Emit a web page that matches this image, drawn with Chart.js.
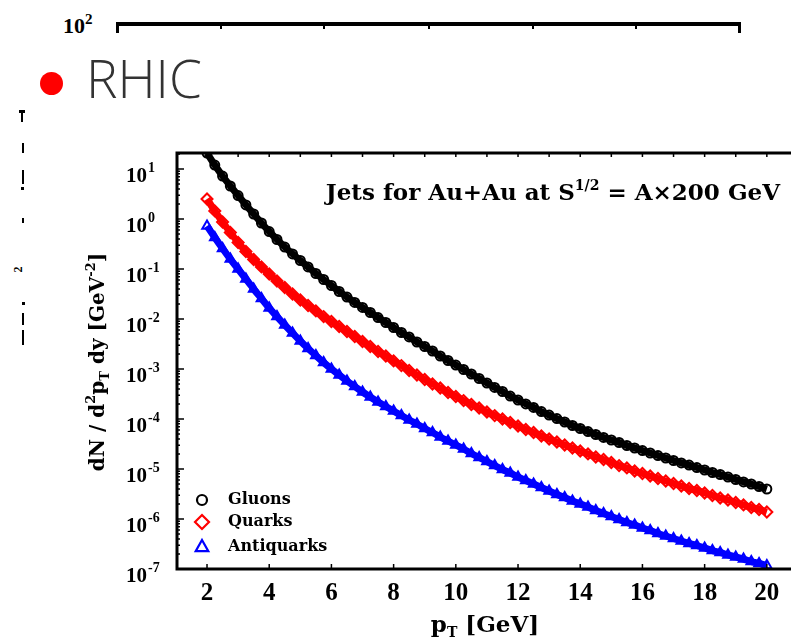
<!DOCTYPE html>
<html lang="en">
<head>
<meta charset="UTF-8">
<title>Jets for Au+Au at RHIC</title>
<style>
  html, body { margin: 0; padding: 0; background: #fff; }
  body { width: 791px; height: 641px; position: relative; overflow: hidden; }
  #wrap { position: absolute; left: 0; top: 130px; width: 820px; height: 511px; }
  .blk { position: absolute; background: #000; }
  #top10 { position: absolute; left: 63px; top: 15px; font: bold 22px "Liberation Serif", serif; line-height: 22px; color: #000; }
  #top10 span { position: relative; top: -9px; font-size: 15px; }
  #dot { position: absolute; left: 40px; top: 72px; width: 23px; height: 23px; border-radius: 50%; background: #f00; }
  #rhic { position: absolute; left: 86px; top: 52px; font-family: "Open Sans", sans-serif; font-weight: 300; font-size: 53px; line-height: 52px; color: #333; }
  #frag2 { position: absolute; left: 15px; top: 262px; font: bold 12px "Liberation Serif", serif; transform: rotate(-90deg); }
</style>
<script src="https://cdn.jsdelivr.net/npm/chart.js"></script>
</head>
<body>
  <!-- leftover axis strip at the top -->
  <div id="top10">10<span>2</span></div>
  <div class="blk" style="left:116px;top:22px;width:625px;height:4px"></div>
  <div class="blk" style="left:116px;top:22px;width:3px;height:11px"></div>
  <div class="blk" style="left:738px;top:22px;width:3px;height:11px"></div>
  <div class="blk" style="left:220px;top:26px;width:2px;height:3px"></div>
  <div class="blk" style="left:323px;top:26px;width:2px;height:3px"></div>
  <div class="blk" style="left:428px;top:26px;width:2px;height:3px"></div>
  <div class="blk" style="left:532px;top:26px;width:2px;height:3px"></div>
  <div class="blk" style="left:635px;top:26px;width:2px;height:3px"></div>

  <div id="dot"></div>
  <div id="rhic">RHIC</div>

  <!-- cut-off label pieces on the far left -->
  <div class="blk" style="left:19px;top:110px;width:6px;height:3px"></div>
  <div class="blk" style="left:21px;top:112px;width:2px;height:10px"></div>
  <div class="blk" style="left:22px;top:143px;width:2px;height:10px"></div>
  <div class="blk" style="left:22px;top:170px;width:2px;height:14px"></div>
  <div class="blk" style="left:21px;top:187px;width:3px;height:3px"></div>
  <div class="blk" style="left:22px;top:218px;width:2px;height:5px"></div>
  <div id="frag2">2</div>
  <div class="blk" style="left:22px;top:302px;width:3px;height:3px"></div>
  <div class="blk" style="left:22px;top:313px;width:2px;height:12px"></div>
  <div class="blk" style="left:22px;top:330px;width:2px;height:15px"></div>

  <div id="wrap"><canvas id="jets"></canvas></div>

<script>
// pT grid and spectra
const pT = [2, 2.25, 2.5, 2.75, 3, 3.25, 3.5, 3.75, 4, 4.25, 4.5, 4.75, 5, 5.25, 5.5, 5.75,
  6, 6.25, 6.5, 6.75, 7, 7.25, 7.5, 7.75, 8, 8.25, 8.5, 8.75, 9, 9.25, 9.5, 9.75,
  10, 10.25, 10.5, 10.75, 11, 11.25, 11.5, 11.75, 12, 12.25, 12.5, 12.75, 13, 13.25, 13.5, 13.75,
  14, 14.25, 14.5, 14.75, 15, 15.25, 15.5, 15.75, 16, 16.25, 16.5, 16.75, 17, 17.25, 17.5, 17.75,
  18, 18.25, 18.5, 18.75, 19, 19.25, 19.5, 19.75, 20];

const gluons = [20.9, 12.0, 7.24, 4.57, 2.95, 1.91, 1.26, 0.832,
  0.562, 0.389, 0.275, 0.200, 0.148, 0.110, 0.0813, 0.0617,
  0.0468, 0.0355, 0.0275, 0.0214, 0.0170, 0.0135, 0.0107, 8.51e-3,
  6.76e-3, 5.37e-3, 4.37e-3, 3.47e-3, 2.82e-3, 2.29e-3, 1.82e-3, 1.48e-3,
  1.20e-3, 9.77e-4, 7.94e-4, 6.46e-4, 5.25e-4, 4.27e-4, 3.55e-4, 2.88e-4,
  2.40e-4, 2.00e-4, 1.70e-4, 1.41e-4, 1.20e-4, 1.02e-4, 8.71e-5, 7.41e-5,
  6.46e-5, 5.62e-5, 4.90e-5, 4.27e-5, 3.80e-5, 3.39e-5, 2.95e-5, 2.63e-5,
  2.34e-5, 2.09e-5, 1.86e-5, 1.66e-5, 1.48e-5, 1.32e-5, 1.20e-5, 1.07e-5,
  9.55e-6, 8.51e-6, 7.76e-6, 6.92e-6, 6.17e-6, 5.50e-6, 5.01e-6, 4.47e-6,
  3.98e-6];

const quarks = [2.51, 1.45, 0.871, 0.537, 0.339, 0.224, 0.155, 0.110,
  0.0794, 0.0575, 0.0427, 0.0316, 0.0240, 0.0186, 0.0145, 0.0112,
  8.91e-3, 7.08e-3, 5.62e-3, 4.47e-3, 3.55e-3, 2.82e-3, 2.24e-3, 1.82e-3,
  1.45e-3, 1.17e-3, 9.33e-4, 7.59e-4, 6.17e-4, 5.01e-4, 4.17e-4, 3.39e-4,
  2.82e-4, 2.34e-4, 1.95e-4, 1.66e-4, 1.38e-4, 1.17e-4, 1.00e-4, 8.51e-5,
  7.24e-5, 6.17e-5, 5.37e-5, 4.57e-5, 3.98e-5, 3.47e-5, 3.02e-5, 2.63e-5,
  2.29e-5, 2.00e-5, 1.74e-5, 1.55e-5, 1.35e-5, 1.17e-5, 1.05e-5, 9.12e-6,
  8.13e-6, 7.24e-6, 6.46e-6, 5.75e-6, 5.13e-6, 4.57e-6, 4.07e-6, 3.72e-6,
  3.31e-6, 2.95e-6, 2.63e-6, 2.40e-6, 2.14e-6, 1.91e-6, 1.70e-6, 1.55e-6,
  1.38e-6];

const antiquarks = [0.724, 0.427, 0.257, 0.158, 0.100, 0.0631, 0.0398, 0.0257,
  0.0166, 0.0112, 7.59e-3, 5.25e-3, 3.63e-3, 2.57e-3, 1.86e-3, 1.35e-3,
  1.00e-3, 7.59e-4, 5.75e-4, 4.47e-4, 3.47e-4, 2.75e-4, 2.19e-4, 1.78e-4,
  1.45e-4, 1.17e-4, 9.55e-5, 7.94e-5, 6.46e-5, 5.37e-5, 4.37e-5, 3.63e-5,
  3.02e-5, 2.51e-5, 2.04e-5, 1.70e-5, 1.41e-5, 1.17e-5, 9.77e-6, 8.32e-6,
  6.92e-6, 5.89e-6, 5.01e-6, 4.27e-6, 3.63e-6, 3.09e-6, 2.69e-6, 2.29e-6,
  2.00e-6, 1.74e-6, 1.48e-6, 1.29e-6, 1.12e-6, 9.77e-7, 8.51e-7, 7.59e-7,
  6.61e-7, 5.89e-7, 5.13e-7, 4.57e-7, 4.07e-7, 3.63e-7, 3.24e-7, 2.95e-7,
  2.63e-7, 2.34e-7, 2.14e-7, 1.91e-7, 1.74e-7, 1.58e-7, 1.41e-7, 1.29e-7,
  1.17e-7];

const seriesNames = ['Gluons', 'Quarks', 'Antiquarks'];
const xTicks = [2, 4, 6, 8, 10, 12, 14, 16, 18, 20];
const yExps = [-7, -6, -5, -4, -3, -2, -1, 0, 1];

const SERIF = '"Liberation Serif", serif';
const WIDE = '"DejaVu Serif", serif';

// draw a run of text pieces (normal / super / sub) left to right
function runWidth(ctx, parts) {
  let w = 0;
  parts.forEach(p => { ctx.font = 'bold ' + p.size + 'px ' + p.fam; w += ctx.measureText(p.t).width; });
  return w;
}
function drawRun(ctx, parts, x, y) {
  parts.forEach(p => {
    ctx.font = 'bold ' + p.size + 'px ' + p.fam;
    ctx.fillText(p.t, x, y + (p.dy || 0));
    x += ctx.measureText(p.t).width;
  });
  return x;
}

function marker(ctx, style, x, y, r) {
  ctx.beginPath();
  if (style === 'circle') {
    ctx.arc(x, y, r, 0, Math.PI * 2);
  } else if (style === 'rectRot') {
    ctx.moveTo(x, y - r); ctx.lineTo(x + r, y); ctx.lineTo(x, y + r); ctx.lineTo(x - r, y); ctx.closePath();
  } else {
    ctx.moveTo(x, y - r); ctx.lineTo(x + r * 0.9, y + r * 0.6); ctx.lineTo(x - r * 0.9, y + r * 0.6); ctx.closePath();
  }
  ctx.stroke();
}

const frame = {
  id: 'frame',
  afterDraw(chart) {
    const { ctx, chartArea: a, scales: { x, y } } = chart;
    ctx.save();
    ctx.fillStyle = '#000';
    ctx.strokeStyle = '#000';

    // box lines (left, bottom, top)
    ctx.lineWidth = 3;
    ctx.beginPath();
    ctx.moveTo(a.right, a.top); ctx.lineTo(a.left, a.top);
    ctx.lineTo(a.left, a.bottom); ctx.lineTo(a.right, a.bottom);
    ctx.stroke();

    // x ticks: bottom every 2, top every 1
    ctx.lineWidth = 1.5;
    ctx.beginPath();
    xTicks.forEach(v => {
      const px = x.getPixelForValue(v);
      ctx.moveTo(px, a.bottom); ctx.lineTo(px, a.bottom - 5);
    });
    for (let v = Math.ceil(x.min); v <= x.max; v++) {
      const px = x.getPixelForValue(v);
      ctx.moveTo(px, a.top); ctx.lineTo(px, a.top + 4);
    }
    ctx.stroke();

    // y ticks: decades + minor
    ctx.beginPath();
    yExps.forEach(e => {
      const py = y.getPixelForValue(Math.pow(10, e));
      ctx.moveTo(a.left, py); ctx.lineTo(a.left + 7, py);
      for (let m = 2; m <= 9; m++) {
        const v = m * Math.pow(10, e);
        if (v > y.max) break;
        const pm = y.getPixelForValue(v);
        ctx.moveTo(a.left, pm); ctx.lineTo(a.left + 3, pm);
      }
    });
    ctx.stroke();

    // y labels 10^n
    ctx.textBaseline = 'alphabetic';
    yExps.forEach(e => {
      const py = y.getPixelForValue(Math.pow(10, e));
      ctx.font = 'bold 21px ' + SERIF;
      ctx.textAlign = 'right';
      ctx.fillText('10', a.left - 30, py + 13);
      ctx.font = 'bold 14px ' + SERIF;
      ctx.textAlign = 'left';
      ctx.fillText(String(e), a.left - 29, py + 3);
    });

    // y title, rotated
    ctx.textAlign = 'left';
    const yt = [
      { t: 'dN / d', size: 20, fam: WIDE },
      { t: '2', size: 13, fam: WIDE, dy: -9 },
      { t: 'p', size: 20, fam: WIDE },
      { t: 'T', size: 13, fam: WIDE, dy: 5 },
      { t: ' dy [GeV', size: 20, fam: WIDE },
      { t: '-2', size: 13, fam: WIDE, dy: -9 },
      { t: ']', size: 20, fam: WIDE }
    ];
    ctx.save();
    ctx.translate(97, a.top + 209);
    ctx.rotate(-Math.PI / 2);
    drawRun(ctx, yt, -runWidth(ctx, yt) / 2, 7);
    ctx.restore();

    // x title
    const xt = [
      { t: 'p', size: 23, fam: WIDE },
      { t: 'T', size: 14, fam: WIDE, dy: 5 },
      { t: ' [GeV]', size: 23, fam: WIDE }
    ];
    drawRun(ctx, xt, 485 - runWidth(ctx, xt) / 2, a.bottom + 63);

    // annotation
    const note = [
      { t: 'Jets for Au+Au at S', size: 23, fam: WIDE },
      { t: '1/2', size: 14, fam: WIDE, dy: -10 },
      { t: ' = A\u00d7200 GeV', size: 23, fam: WIDE }
    ];
    drawRun(ctx, note, 780 - runWidth(ctx, note), a.top + 47);

    // legend, bottom left inside the frame
    ctx.textBaseline = 'middle';
    ctx.font = 'bold 16px ' + WIDE;
    chart.data.datasets.forEach((ds, i) => {
      const ly = a.bottom + [-69, -47, -22][i];
      ctx.strokeStyle = ds.borderColor;
      ctx.lineWidth = 2.2;
      marker(ctx, ds.pointStyle, a.left + 25, ly, [5, 7, 7][i]);
      ctx.fillStyle = '#000';
      ctx.fillText(ds.label, a.left + 51, ly);
    });
    ctx.restore();
  }
};

const toPts = vals => pT.map((v, i) => ({ x: v, y: vals[i] }));

// dense marker bands: a thick trace in the series colour with open markers on it
const band = (label, vals, style, color, r) => ({
  label, data: toPts(vals), showLine: true, tension: 0.3,
  borderColor: color, borderWidth: 7, backgroundColor: 'rgba(0,0,0,0)',
  pointStyle: style, pointRadius: r, pointBorderWidth: 2,
  pointBorderColor: color, pointBackgroundColor: 'rgba(0,0,0,0)'
});

new Chart(document.getElementById('jets'), {
  type: 'scatter',
  data: {
    datasets: [
      band(seriesNames[0], gluons, 'circle', '#000', 4.5),
      band(seriesNames[1], quarks, 'rectRot', '#f00', 5.5),
      band(seriesNames[2], antiquarks, 'triangle', '#00f', 5.5)
    ]
  },
  options: {
    responsive: true,
    maintainAspectRatio: false,
    animation: false,
    events: [],
    layout: { padding: { top: 23, right: 9, left: 0, bottom: 0 } },
    plugins: { legend: { display: false }, tooltip: { enabled: false } },
    scales: {
      x: {
        type: 'linear', min: 1.035, max: 21.42,
        afterBuildTicks: s => { s.ticks = xTicks.map(v => ({ value: v })); },
        afterFit: s => { s.height = 72; },
        grid: { display: false, drawTicks: false },
        border: { display: false },
        ticks: { color: '#000', padding: 10, maxRotation: 0, autoSkip: false,
          font: { family: SERIF, size: 25, weight: 'bold' } }
      },
      y: {
        type: 'logarithmic', min: 1e-7, max: 20.9,
        afterBuildTicks: s => { s.ticks = yExps.map(e => ({ value: Math.pow(10, e) })); },
        afterFit: s => { s.width = 177; },
        grid: { display: false, drawTicks: false },
        border: { display: false },
        ticks: { display: false }
      }
    }
  },
  plugins: [frame]
});
</script>
</body>
</html>
